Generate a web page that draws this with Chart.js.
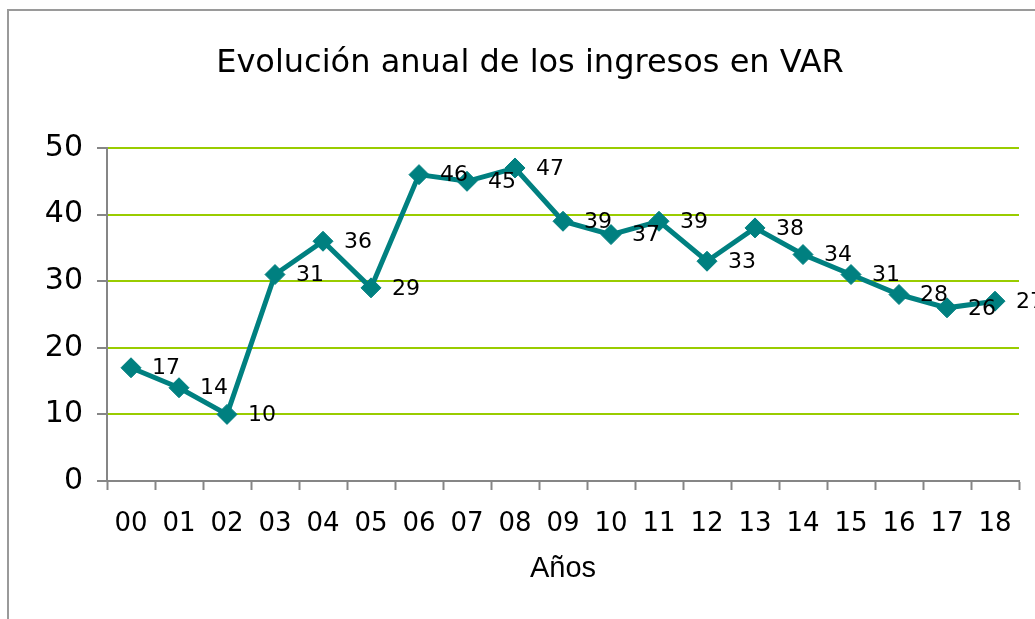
<!DOCTYPE html>
<html>
<head>
<meta charset="utf-8">
<script src="https://cdn.jsdelivr.net/npm/chart.js@4"></script>
<style>
    html, body { margin: 0; padding: 0; background: #ffffff; }
    #wrap { position: relative; width: 1035px; height: 619px; overflow: hidden; }
    #frame {
        position: absolute; left: 7px; top: 9px; width: 1100px; height: 700px;
        border-left: 2px solid #9a9a9a; border-top: 2px solid #9a9a9a;
    }
    canvas { position: absolute; left: 0; top: 0; }
</style>
</head>
<body>
<div id="wrap">
    <div id="frame"></div>
    <canvas id="chart" width="1035" height="619"></canvas>
</div>
<script>
// Chart data
const years = ['00', '01', '02', '03', '04', '05', '06', '07', '08', '09',
               '10', '11', '12', '13', '14', '15', '16', '17', '18'];
const income = [17, 14, 10, 31, 36, 29, 46, 45, 47, 39, 37, 39, 33, 38, 34, 31, 28, 26, 27];
const yTicks = [0, 10, 20, 30, 40, 50];

const TEAL = '#008080';
const GRID_GREEN = '#99cc00';
const AXIS_GRAY = '#868686';

/**
 * Draw value labels to the right of each point
 */
const pointLabels = {
    id: 'pointLabels',
    afterDatasetsDraw(chart) {
        const ctx = chart.ctx;
        const meta = chart.getDatasetMeta(0);
        ctx.save();
        ctx.font = '22px "DejaVu Sans"';
        ctx.fillStyle = '#000000';
        ctx.textAlign = 'left';
        ctx.textBaseline = 'middle';
        meta.data.forEach((pt, i) => {
            ctx.fillText(String(income[i]), pt.x + 21, pt.y + 1);
        });
        ctx.restore();
    }
};

const ctx = document.getElementById('chart').getContext('2d');

new Chart(ctx, {
    type: 'line',
    data: {
        labels: years,
        datasets: [{
            label: 'Ingresos',
            data: income,
            borderColor: TEAL,
            backgroundColor: TEAL,
            borderWidth: 5,
            pointStyle: 'rectRot',
            pointRadius: 10,
            pointBorderWidth: 1,
            pointBackgroundColor: TEAL,
            pointBorderColor: TEAL,
            tension: 0
        }]
    },
    options: {
        responsive: false,
        animation: false,
        layout: {
            padding: { left: 41, right: 16, top: 0, bottom: 0 }
        },
        plugins: {
            legend: { display: false },
            tooltip: { enabled: false },
            title: {
                display: true,
                text: 'Evolución anual de los ingresos en VAR',
                color: '#000000',
                font: { family: '"DejaVu Sans"', size: 32, weight: 'normal' },
                padding: { top: 44, bottom: 65.6 }
            }
        },
        scales: {
            x: {
                type: 'category',
                offset: true,
                grid: {
                    offset: true,
                    drawOnChartArea: false,
                    drawTicks: true,
                    tickLength: 9,
                    tickWidth: 2,
                    tickColor: AXIS_GRAY
                },
                border: { color: AXIS_GRAY, width: 2 },
                ticks: {
                    color: '#000000',
                    font: { family: '"DejaVu Sans"', size: 26 },
                    padding: 19,
                    maxRotation: 0,
                    autoSkip: false
                },
                title: {
                    display: true,
                    text: 'Años',
                    color: '#000000',
                    font: { family: '"Liberation Sans"', size: 29 },
                    padding: { top: 0, bottom: 33 }
                },
                afterFit(scale) {
                    scale.height = 138;
                }
            },
            y: {
                min: 0,
                max: 50,
                afterBuildTicks(scale) {
                    scale.ticks = yTicks.map(v => ({ value: v }));
                },
                grid: {
                    color: (c) => (c.tick && c.tick.value === 0 ? AXIS_GRAY : GRID_GREEN),
                    lineWidth: 2,
                    tickLength: 10,
                    tickWidth: 2,
                    tickColor: AXIS_GRAY
                },
                border: { color: AXIS_GRAY, width: 2 },
                ticks: {
                    color: '#000000',
                    font: { family: '"DejaVu Sans"', size: 30 },
                    padding: 14
                },
                afterFit(scale) {
                    scale.width = 66;
                }
            }
        }
    },
    plugins: [pointLabels]
});
</script>
</body>
</html>
